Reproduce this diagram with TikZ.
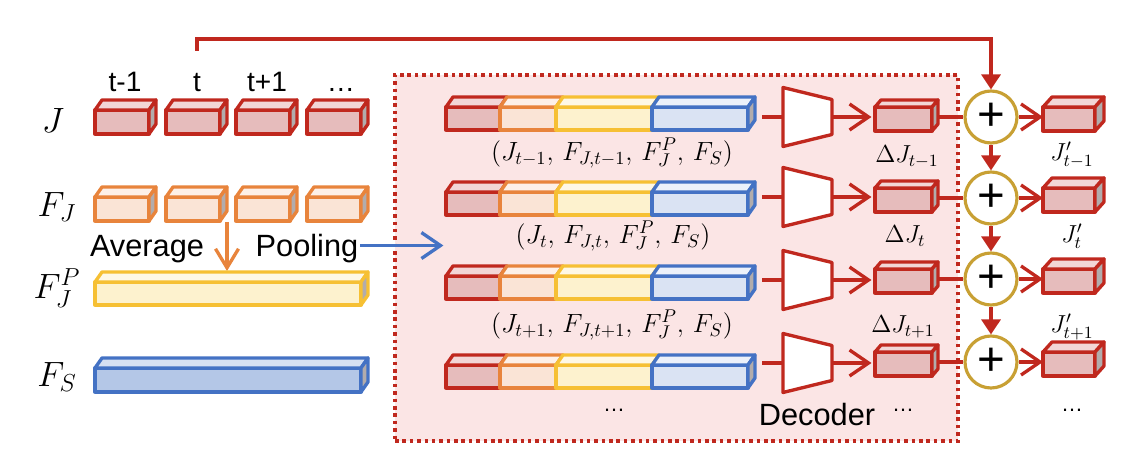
\RequirePackage{fix-cm}
\documentclass[tikz,border=0pt]{standalone}
\usepackage[no-math]{fontspec}
\setmainfont{Liberation Sans}
\usetikzlibrary{arrows.meta,calc}
\definecolor{cred}{RGB}{192,40,30}
\definecolor{credfill}{RGB}{230,188,188}
\definecolor{credtop}{RGB}{242,214,214}
\definecolor{corange}{RGB}{232,132,60}
\definecolor{corfill}{RGB}{250,228,214}
\definecolor{cortop}{RGB}{253,240,232}
\definecolor{cyellow}{RGB}{246,192,52}
\definecolor{cyefill}{RGB}{253,242,206}
\definecolor{cyetop}{RGB}{254,248,230}
\definecolor{cblue}{RGB}{68,114,196}
\definecolor{cbluefill}{RGB}{180,199,231}
\definecolor{cbluetop}{RGB}{214,224,242}
\definecolor{cbluelfill}{RGB}{218,227,243}
\definecolor{cbluelt}{RGB}{236,241,250}
\definecolor{cside}{RGB}{178,172,172}
\definecolor{cpink}{RGB}{251,229,229}
\definecolor{cgold}{RGB}{200,160,52}
\pgfdeclarelayer{back}
\pgfdeclarelayer{conn}
\pgfsetlayers{back,conn,main}
\tikzset{
  cubeline/.style={line width=1.9pt, line join=round},
  frontbase/.style={cubeline, rectangle, inner sep=0pt, outer sep=0pt},
  redfront/.style={frontbase, draw=cred, fill=credfill},
  redtop/.style={cubeline, draw=cred, fill=credtop},
  redside/.style={cubeline, draw=cred, fill=cside},
  orangefront/.style={frontbase, draw=corange, fill=corfill},
  orangetop/.style={cubeline, draw=corange, fill=cortop},
  orangeside/.style={cubeline, draw=corange, fill=cside},
  yellowfront/.style={frontbase, draw=cyellow, fill=cyefill},
  yellowtop/.style={cubeline, draw=cyellow, fill=cyetop},
  yellowside/.style={cubeline, draw=cyellow, fill=cside},
  bluefront/.style={frontbase, draw=cblue, fill=cbluefill},
  bluetop/.style={cubeline, draw=cblue, fill=cbluetop},
  blueside/.style={cubeline, draw=cblue, fill=cside},
  bluelfront/.style={frontbase, draw=cblue, fill=cbluelfill},
  blueltop/.style={cubeline, draw=cblue, fill=cbluelt},
  bluelside/.style={cubeline, draw=cblue, fill=cside},
  lbl/.style={inner sep=1pt, font=\fontsize{17.5}{20}\selectfont},
  tlbl/.style={inner sep=1pt, font=\fontsize{16}{19}\selectfont, anchor=base},
  mlbl/.style={inner sep=1pt, font=\fontsize{20}{24}\selectfont},
  clbl/.style={inner sep=0pt, font=\fontsize{15}{18}\selectfont},
  rlbl/.style={inner sep=0pt, font=\fontsize{14}{17}\selectfont},
  dotlbl/.style={inner sep=1pt, font=\fontsize{12.5}{15}\selectfont},
  redline/.style={draw=cred, line width=1.9pt},
  barb/.style={redline, -{Straight Barb[length=0.38cm, width=0.52cm]}},
  tri/.style={redline, -{Triangle[length=0.3cm, width=0.38cm]}},
  decbox/.style={inner sep=0pt, outer sep=0pt, minimum width=0.98cm, minimum height=1.18cm},
  decshape/.style={draw=cred, fill=white, line width=1.9pt, line join=round},
  adder/.style={circle, draw=cgold, fill=white, line width=1.8pt, minimum size=1.04cm, inner sep=0pt, font=\fontsize{27}{27}\selectfont},
  region/.style={draw=cred, fill=cpink, line width=2pt, dash pattern=on 2pt off 2.2pt, inner sep=0pt, minimum width=11.26cm, minimum height=7.32cm},
}
\newcommand\cubdx{7}
\newcommand\cubdy{-10}
\newcommand\cuboid[6]{%
  \node[#6front, minimum width={((#4)-(#2))*0.02cm}, minimum height={((#5)-(#3))*0.02cm}] (#1) at ({((#2)+(#4))/2},{((#3)+(#5))/2}) {};
  \draw[#6top] (#1.north west) -- ++(\cubdx,\cubdy) -- ([shift={(\cubdx,\cubdy)}]#1.north east) -- (#1.north east) -- cycle;
  \draw[#6side] (#1.north east) -- ++(\cubdx,\cubdy) -- ([shift={(\cubdx,\cubdy)}]#1.south east) -- (#1.south east) -- cycle;
}
\newcommand\slab[6]{%
  \node[#6front, minimum width={((#4)-(#2))*0.02cm}, minimum height={((#5)-(#3))*0.02cm}] (#1) at ({((#2)+(#4))/2},{((#3)+(#5))/2}) {};
  \draw[#6top] (#1.north west) -- ++(\cubdx,\cubdy) -- ([shift={(\cubdx,\cubdy)}]#1.north east) -- (#1.north east) -- cycle;
}
\begin{document}
\begin{tikzpicture}[x=0.02cm, y=-0.02cm]
\useasboundingbox (0,0) rectangle (1136,462);

% decoder region
\begin{pgfonlayer}{back}
\node[region] (regionbox) at (676.5,258) {};
\end{pgfonlayer}

% left labels
\node[mlbl] (lJ) at (53,120) {$J$};
\node[mlbl] (lFJ) at (57,207) {$F_J$};
\node[mlbl] (lFJP) at (57,288) {$F_J^P$};
\node[mlbl] (lFS) at (57,377) {$F_S$};

% time labels
\node[tlbl] (t1) at (125,92) {t-1};
\node[tlbl] (t2) at (197,92) {t};
\node[tlbl] (t3) at (267,92) {t+1};
\node[tlbl] (t4) at (341,92) {…};

% J and F_J boxes
\foreach \i/\xa in {1/95,2/166,3/236,4/307}{
  \cuboid{J\i}{\xa}{110}{\xa+54}{134}{red}
  \cuboid{FJ\i}{\xa}{197}{\xa+54}{221}{orange}
}
\cuboid{FJP}{95}{282}{361}{305}{yellow}
\cuboid{FS}{95}{368}{361}{392}{blue}

% Average pooling
\node[lbl, anchor=base] (avg) at (147,257) {Average};
\node[lbl, anchor=base] (pool) at (307,257) {Pooling};
\coordinate (avgstart) at (227,222);
\coordinate (avgend) at (227,271);
\begin{pgfonlayer}{conn}
\draw[draw=corange, line width=1.9pt, -{Straight Barb[length=0.38cm, width=0.46cm]}] (avgstart) -- (avgend);
\draw[draw=cblue, line width=1.9pt, -{Straight Barb[length=0.38cm, width=0.52cm]}] ([yshift=2pt]pool.east) -- ++(83,0);
\end{pgfonlayer}

% concatenated features
\foreach \r/\ya/\yb in {1/107/130,2/192/215,3/276/299,4/365/388}{
  \slab{cr\r}{446}{\ya}{500}{\yb}{red}
  \slab{co\r}{500}{\ya}{556}{\yb}{orange}
  \slab{cy\r}{556}{\ya}{652}{\yb}{yellow}
  \cuboid{cb\r}{652}{\ya}{748}{\yb}{bluel}
}
\node[clbl] (cl1) at (612,153) {$(J_{t-1},\, F_{J,t-1},\, F_J^P,\, F_S)$};
\node[clbl] (cl2) at (613,236) {$(J_{t},\, F_{J,t},\, F_J^P,\, F_S)$};
\node[clbl] (cl3) at (612,325) {$(J_{t+1},\, F_{J,t+1},\, F_J^P,\, F_S)$};
\node[dotlbl] (cl4) at (614,410) {…};

% decoders
\foreach \r/\y in {1/117,2/197,3/280,4/363}{
  \node[decbox] (dec\r) at (807.5,\y) {};
  \draw[decshape] (dec\r.north west) -- (dec\r.south west) -- ($(dec\r.south east)+(0,-12)$) -- ($(dec\r.north east)+(0,12)$) -- cycle;
  \begin{pgfonlayer}{conn}
  \draw[redline] (dec\r.west) -- ++(-21,0);
  \end{pgfonlayer}
}
\node[lbl, anchor=base] (declbl) at (817,425) {Decoder};

% right part
\renewcommand\cubdx{6}
\renewcommand\cubdy{-7}
\foreach \r/\y in {1/117,2/198,3/279,4/362}{
  \cuboid{dj\r}{875}{\y-10}{932}{\y+14}{red}
}
\renewcommand\cubdx{9}
\renewcommand\cubdy{-10}
\foreach \r/\y in {1/117,2/198,3/279,4/362}{
  \node[adder] (c\r) at (991,\y) {+};
  \cuboid{jp\r}{1043}{\y-10}{1095}{\y+14}{red}
}
\begin{pgfonlayer}{conn}
\foreach \r in {1,2,3,4}{
  \draw[barb, shorten >=2pt] (dec\r.east) -- (dec\r.east -| dj\r.west);
  \draw[redline] (c\r.west -| dj\r.east) -- (c\r.west);
  \draw[barb] (c\r.east) -- (c\r.east -| jp\r.west);
}
\draw[tri] (c1.south) -- (c2.north);
\draw[tri] (c2.south) -- (c3.north);
\draw[tri] (c3.south) -- (c4.north);
\coordinate (topstart) at (197,51);
\draw[tri] (topstart) -- (197,39) -| (c1.north);
\end{pgfonlayer}

\node[rlbl] (dl1) at (907,157) {$\Delta J_{t-1}$};
\node[rlbl] (dl2) at (905,236) {$\Delta J_{t}$};
\node[rlbl] (dl3) at (903,327) {$\Delta J_{t+1}$};
\node[dotlbl] (dl4) at (903,410) {…};
\node[rlbl] (jl1) at (1072,155) {$J'_{t-1}$};
\node[rlbl] (jl2) at (1072,236) {$J'_{t}$};
\node[rlbl] (jl3) at (1072,327) {$J'_{t+1}$};
\node[dotlbl] (jl4) at (1072,410) {…};
\end{tikzpicture}
\end{document}
